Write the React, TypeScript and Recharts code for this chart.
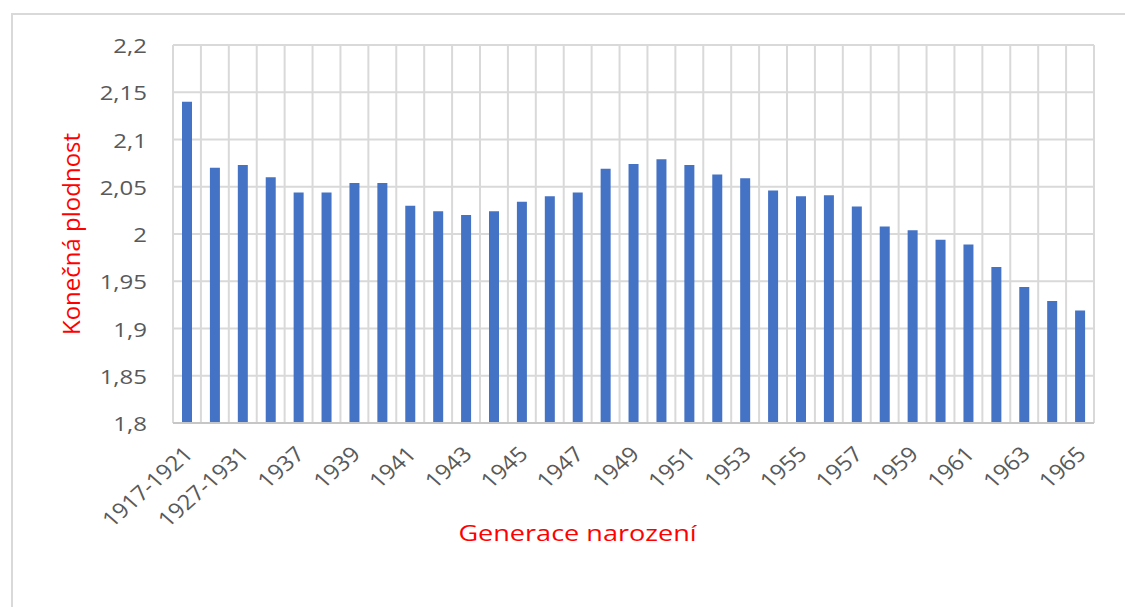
import React from 'react';
import { BarChart, Bar, XAxis, YAxis, CartesianGrid, Label } from 'recharts';

const categories = [
  '1917-1921', '1922-1926', '1927-1931', '1932-1936', '1937', '1938', '1939', '1940',
  '1941', '1942', '1943', '1944', '1945', '1946', '1947', '1948', '1949', '1950',
  '1951', '1952', '1953', '1954', '1955', '1956', '1957', '1958', '1959', '1960',
  '1961', '1962', '1963', '1964', '1965',
];

const fertility = [
  2.14, 2.07, 2.073, 2.06, 2.044, 2.044, 2.054, 2.054,
  2.03, 2.024, 2.02, 2.024, 2.034, 2.04, 2.044, 2.069, 2.074, 2.079,
  2.073, 2.063, 2.059, 2.046, 2.04, 2.041, 2.029, 2.008, 2.004, 1.994,
  1.989, 1.965, 1.944, 1.929, 1.919,
];

const yTicks = [1.8, 1.85, 1.9, 1.95, 2, 2.05, 2.1, 2.15, 2.2];

const yTitle = 'Konečná plodnost';
const xTitle = 'Generace narození';

const data = categories.map((cat, i) => ({ cat, value: fertility[i] }));

const FONT = '"Open Sans", sans-serif';
const TICK_COLOR = '#595959';
const STRETCH = 1.2;

const fmt = (v: number) => String(v).replace('.', ',');

const YTick = (props: any) => {
  const { x, y, payload } = props;
  return (
    <g transform={`translate(${x},${y}) scale(${STRETCH},1)`}>
      <text x={0} y={0} textAnchor="end" dominantBaseline="central" fill={TICK_COLOR}
        fontFamily={FONT} fontSize={20}>
        {fmt(payload.value)}
      </text>
    </g>
  );
};

const XTick = (props: any) => {
  const { x, y, payload } = props;
  return (
    <g transform={`translate(${x + 1},${y + 27}) scale(1.13,1) rotate(-45)`}>
      <text x={0} y={0} textAnchor="end" dominantBaseline="central" fill={TICK_COLOR}
        fontFamily={FONT} fontSize={21}>
        {payload.value}
      </text>
    </g>
  );
};

export default function App() {
  const n = categories.length;
  return (
    <div style={{ position: 'absolute', left: 0, top: 0, width: 1125, height: 607, overflow: 'hidden', background: '#fff' }}>
      <div style={{ position: 'absolute', left: 11, top: 13, width: 1300, height: 800, border: '2px solid #d9d9d9' }} />
      <div style={{ position: 'absolute', left: 0, top: 0 }}>
        <BarChart width={1125} height={607} data={data}
          margin={{ top: 45, right: 31, left: 113, bottom: 84 }}>
          <CartesianGrid stroke="#d9d9d9" strokeWidth={2}
            verticalCoordinatesGenerator={({ offset }: any) =>
              Array.from({ length: n + 1 }, (_, i) => offset.left + (i * offset.width) / n)}
          />
          <XAxis dataKey="cat" interval={1} tickLine={false} tickSize={0} tickMargin={0}
            height={100} axisLine={{ stroke: '#c6c6c6', strokeWidth: 2 }} tick={(p: any) => <XTick {...p} />}>
            <Label content={(p: any) => {
              const vb = p.viewBox;
              return (
                <g transform={`translate(${vb.x + vb.width / 2 - 56},${vb.y + 110}) scale(1.23,1)`}>
                  <text x={0} y={0} textAnchor="middle" dominantBaseline="central" fill="#ff0000"
                    fontFamily={FONT} fontSize={22}>{xTitle}</text>
                </g>
              );
            }} />
          </XAxis>
          <YAxis domain={[1.8, 2.2]} ticks={yTicks} width={60} axisLine={false} tickLine={false}
            tickSize={0} tickMargin={26} tick={(p: any) => <YTick {...p} />} allowDataOverflow>
            <Label content={(p: any) => {
              const vb = p.viewBox;
              const cx = vb.x - 43;
              const cy = vb.y + vb.height / 2;
              return (
                <text x={cx} y={cy} textAnchor="middle" dominantBaseline="central" fill="#ff0000"
                  fontFamily={FONT} fontSize={24} transform={`rotate(-90, ${cx}, ${cy})`}>{yTitle}</text>
              );
            }} />
          </YAxis>
          <Bar dataKey="value" fill="#4472C4" barSize={10} isAnimationActive={false} />
        </BarChart>
      </div>
    </div>
  );
}
